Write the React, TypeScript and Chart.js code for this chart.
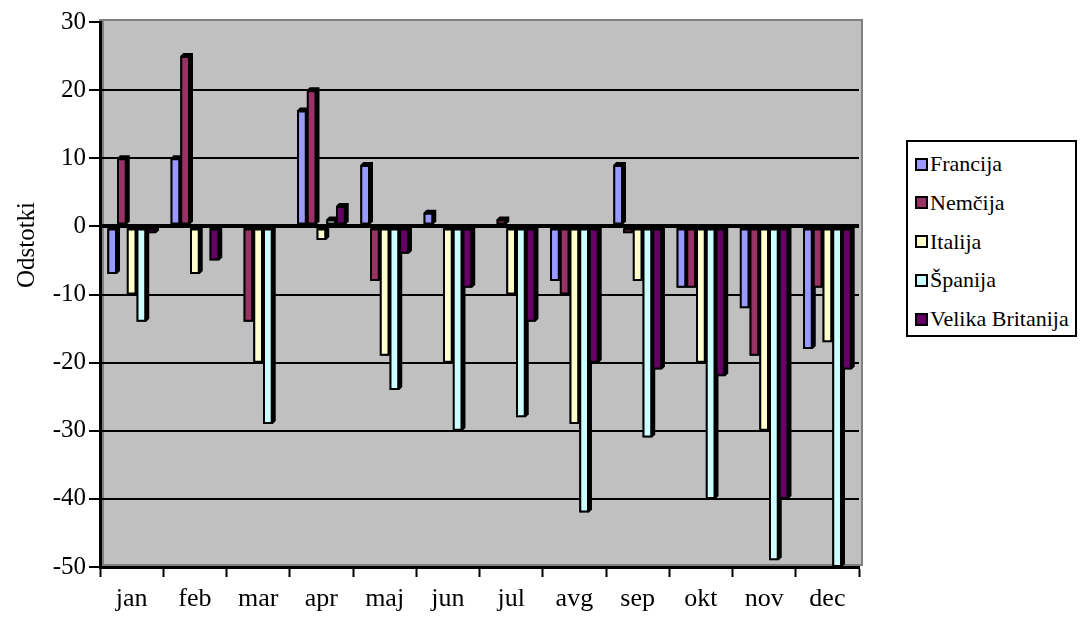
import React, { useEffect, useRef } from "react";
import { Chart, registerables } from "chart.js";

Chart.register(...registerables);

const months = ["jan", "feb", "mar", "apr", "maj", "jun", "jul", "avg", "sep", "okt", "nov", "dec"];

const francija = [-7, 10, 0, 17, 9, 2, 0, -8, 9, -9, -12, -18];
const nemcija = [10, 25, -14, 20, -8, 0, 1, -10, -1, -9, -19, -9];
const italija = [-10, -7, -20, -2, -19, -20, -10, -29, -8, -20, -30, -17];
const spanija = [-14, 0, -29, 1, -24, -30, -28, -42, -31, -40, -49, -50];
const velikaBritanija = [-1, -5, 0, 3, -4, -9, -14, -20, -21, -22, -40, -21];

const seriesNames = ["Francija", "Nemčija", "Italija", "Španija", "Velika Britanija"];
const seriesColors = ["#9999FF", "#993366", "#FFFFCC", "#CCFFFF", "#660066"];
const seriesValues = [francija, nemcija, italija, spanija, velikaBritanija];

const yTitle = "Odstotki";
const FONT = '"Liberation Serif", "Times New Roman", serif';
const DEPTH = 3;

// grey back wall behind the bars
const wallPlugin = {
  id: "wall",
  beforeDraw(chart: any) {
    const { ctx, chartArea } = chart;
    const { left, top, right, bottom } = chartArea;
    ctx.save();
    ctx.fillStyle = "#C0C0C0";
    ctx.fillRect(left, top - 2, right - left + DEPTH, bottom - top);
    ctx.strokeStyle = "#808080";
    ctx.lineWidth = 2;
    ctx.strokeRect(left, top - 2, right - left + DEPTH, bottom - top);
    ctx.fillStyle = "#808080";
    ctx.fillRect(left, top - 2, 4, bottom - top);
    ctx.restore();
  },
};

// dark extruded side/top faces for each bar
const depthPlugin = {
  id: "barDepth",
  beforeDatasetsDraw(chart: any) {
    const { ctx } = chart;
    ctx.save();
    ctx.fillStyle = "#000000";
    chart.data.datasets.forEach((_: any, i: number) => {
      const meta = chart.getDatasetMeta(i);
      if (meta.hidden) return;
      meta.data.forEach((bar: any) => {
        const { x, y, base, width } = bar.getProps(["x", "y", "base", "width"], true);
        if (Math.abs(base - y) < 0.5) return;
        const l = x - width / 2;
        const t = Math.min(y, base);
        const b = Math.max(y, base);
        ctx.beginPath();
        ctx.moveTo(l, t);
        ctx.lineTo(l + DEPTH, t - DEPTH);
        ctx.lineTo(l + width + DEPTH, t - DEPTH);
        ctx.lineTo(l + width + DEPTH, b - DEPTH);
        ctx.lineTo(l + width, b);
        ctx.lineTo(l, b);
        ctx.closePath();
        ctx.fill();
      });
    });
    ctx.restore();
  },
};

// rotated axis title
const titlePlugin = {
  id: "yTitle",
  afterDraw(chart: any) {
    const { ctx } = chart;
    ctx.save();
    ctx.translate(27, 245);
    ctx.rotate(-Math.PI / 2);
    ctx.font = `25px ${FONT}`;
    ctx.fillStyle = "#000";
    ctx.textAlign = "center";
    ctx.textBaseline = "middle";
    ctx.fillText(yTitle, 0, 0);
    ctx.restore();
  },
};

export default function App() {
  const canvasRef = useRef<HTMLCanvasElement | null>(null);

  useEffect(() => {
    if (!canvasRef.current) return;
    const chart = new Chart(canvasRef.current, {
      type: "bar",
      data: {
        labels: months,
        datasets: seriesNames.map((name, i) => ({
          label: name,
          data: seriesValues[i],
          backgroundColor: seriesColors[i],
          borderColor: "#000000",
          borderWidth: 2,
          borderSkipped: false,
          categoryPercentage: 0.77,
          barPercentage: 1,
        })),
      },
      options: {
        responsive: false,
        animation: false,
        devicePixelRatio: 1,
        layout: { padding: { top: 22, right: 222, bottom: 0, left: 0 } },
        plugins: {
          legend: { display: false },
          tooltip: { enabled: false },
        },
        scales: {
          x: {
            grid: {
              offset: true,
              drawOnChartArea: false,
              drawTicks: true,
              tickLength: 10,
              tickColor: "#000",
              tickWidth: 2,
            },
            border: { display: true, color: "#000", width: 3 },
            ticks: {
              color: "#000",
              font: { family: FONT, size: 26 },
              padding: 7,
              maxRotation: 0,
            },
            afterFit(scale: any) {
              scale.height = 54;
            },
          },
          y: {
            min: -50,
            max: 30,
            ticks: {
              stepSize: 10,
              color: "#000",
              font: { family: FONT, size: 25 },
              padding: 3,
            },
            grid: {
              drawTicks: true,
              tickLength: 11,
              tickColor: "#000",
              tickWidth: 2,
              color: (ctx: any) => (ctx.tick && ctx.tick.value === 30 ? "rgba(0,0,0,0)" : "#000"),
              lineWidth: (ctx: any) => (ctx.tick && ctx.tick.value === 0 ? 4 : 2),
            },
            border: { display: true, color: "#000", width: 3 },
            afterFit(scale: any) {
              scale.width = 100;
            },
          },
        },
      },
      plugins: [wallPlugin, depthPlugin, titlePlugin],
    });
    return () => chart.destroy();
  }, []);

  return (
    <div style={{ position: "fixed", left: 0, top: 0, width: 1081, height: 621, background: "#fff" }}>
      <canvas ref={canvasRef} width={1081} height={621} style={{ display: "block" }} />
      <div
        style={{
          position: "absolute",
          left: 906,
          top: 140,
          width: 171,
          height: 197,
          boxSizing: "border-box",
          border: "2px solid #000",
          background: "#fff",
          fontFamily: FONT,
          fontSize: 22,
          color: "#000",
        }}
      >
        {seriesNames.map((name, i) => (
          <div
            key={name}
            style={{
              position: "absolute",
              left: 7,
              top: 8 + i * 38.8,
              height: 28,
              display: "flex",
              alignItems: "center",
              whiteSpace: "nowrap",
            }}
          >
            <span
              style={{
                display: "inline-block",
                width: 13,
                height: 13,
                boxSizing: "border-box",
                border: "2px solid #000",
                background: seriesColors[i],
                marginRight: 2,
              }}
            />
            <span>{name}</span>
          </div>
        ))}
      </div>
    </div>
  );
}
